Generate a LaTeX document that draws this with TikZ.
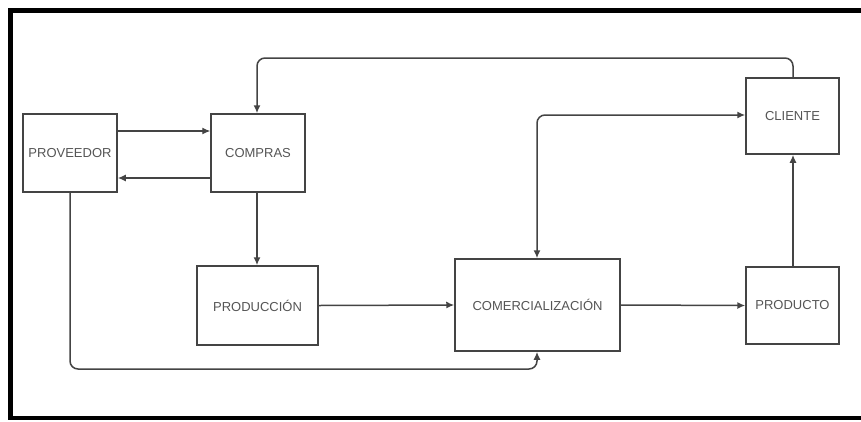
\documentclass[tikz,border=0pt]{standalone}
\usepackage{fontspec}
\setmainfont{Liberation Sans}
\usetikzlibrary{arrows.meta}
\definecolor{linegray}{HTML}{444444}
\definecolor{textgray}{HTML}{555555}
\begin{document}
\begin{tikzpicture}[x=1pt,y=-1pt,
  block/.style={draw=linegray,line width=1.5pt,minimum width=#1,inner sep=0pt,
    font=\fontsize{13}{15}\selectfont,text=textgray},
  flow/.style={draw=linegray,line width=1.5pt,-{Latex[length=8pt,width=7pt]},rounded corners=8pt},
  both/.style={flow,{Latex[length=8pt,width=7pt]}-{Latex[length=8pt,width=7pt]}}]
\useasboundingbox (0,0) rectangle (861,421);
\fill[white] (0,0) rectangle (861,421);
% outer frame (open on the right)
\draw[line width=4.5pt,line cap=rect] (866,10.5) -- (10.5,10.5) -- (10.5,418) -- (866,418);

% boxes
\node[block=94pt,minimum height=78pt] (prov) at (70,153) {PROVEEDOR};
\node[block=94pt,minimum height=78pt] (comp) at (258,153) {COMPRAS};
\node[block=93pt,minimum height=76pt] (cli) at (792.5,116) {CLIENTE};
\node[block=121pt,minimum height=79pt] (prodn) at (257.5,305.5) {PRODUCCIÓN};
\node[block=165pt,minimum height=92pt] (com) at (537.5,305) {COMERCIALIZACIÓN};
\node[block=93pt,minimum height=77pt] (prod) at (792.5,305.5) {PRODUCTO};

% anchor points of the routed connectors
\coordinate (topturnR) at (793,58);
\coordinate (topturnL) at (257,58);
\coordinate (lowturnL) at (70,369);
\coordinate (lowturnR) at (537,369);
\coordinate (midturn) at (537,115);

% connectors
\draw[flow,line width=1.1pt] (prov.east |- 0,131) -- (comp.west |- 0,131);
\draw[flow] (comp.west |- 0,178) -- (prov.east |- 0,178);
\draw[flow] (cli.north -| topturnR) -- (topturnR) -- (topturnL) -- (comp.north -| topturnL);
\draw[flow] (comp.south -| topturnL) -- (prodn.north -| topturnL);
\draw[flow] (prov.south) -- (lowturnL) -- (lowturnR) -- (com.south -| lowturnR);
\draw[flow] (prodn.east) -- (com.west);
\draw[flow] (com.east) -- (prod.west);
\draw[flow] (prod.north -| topturnR) -- (cli.south -| topturnR);
\draw[both] (com.north -| midturn) -- (midturn) -- (cli.west |- midturn);
\end{tikzpicture}
\end{document}
